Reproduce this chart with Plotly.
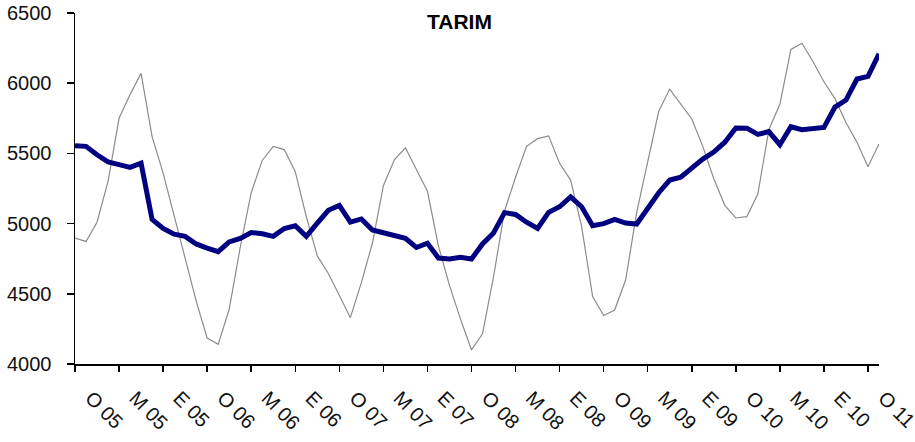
import numpy as np
import plotly.graph_objects as go

# Monthly observations, Jan 2005 (O 05) .. Feb 2011
raw_values = [
    4897, 4873, 5010, 5300, 5750, 5920, 6070, 5620, 5360, 5050, 4745, 4450,
    4185, 4140, 4390, 4830, 5220, 5450, 5550, 5527, 5370, 5050, 4770, 4645,
    4490, 4330, 4580, 4860, 5270, 5455, 5540, 5380, 5230, 4840, 4560, 4320,
    4100, 4215, 4620, 5090, 5330, 5550, 5605, 5625, 5430, 5310, 4980, 4480,
    4345, 4385, 4600, 5080, 5450, 5800, 5958, 5850, 5745, 5550, 5320, 5130,
    5040, 5050, 5210, 5670, 5850, 6240, 6285, 6155, 6010, 5890, 5720, 5580,
    5405, 5567,
]
trend_values = [
    5555, 5550, 5490, 5440, 5420, 5400, 5430, 5030, 4965, 4925, 4909, 4855,
    4825, 4800, 4870, 4895, 4937, 4928, 4909, 4965, 4985, 4909, 5004, 5095,
    5130, 5010, 5033, 4955, 4935, 4915, 4895, 4830, 4860, 4755, 4748, 4760,
    4748, 4855, 4933, 5078, 5065, 5010, 4965, 5080, 5120, 5190, 5120, 4985,
    5000, 5030, 5004, 4997, 5110, 5220, 5310, 5330, 5395, 5460, 5510, 5580,
    5681, 5680, 5635, 5655, 5562, 5690, 5669, 5674, 5685, 5830, 5880, 6030,
    6049, 6210,
]
tick_labels = [
    "O 05", "M 05", "E 05", "O 06", "M 06", "E 06", "O 07", "M 07", "E 07",
    "O 08", "M 08", "E 08", "O 09", "M 09", "E 09", "O 10", "M 10", "E 10",
    "O 11",
]
y_ticks = [4000, 4500, 5000, 5500, 6000, 6500]

x = np.arange(len(raw_values))
tick_pos = np.arange(len(tick_labels)) * 4

FONT = "Arial, Liberation Sans, sans-serif"

fig = go.Figure()
fig.add_trace(go.Scatter(
    x=x, y=raw_values, mode="lines",
    line=dict(color="#8c8c8c", width=1.2), hoverinfo="skip", showlegend=False,
))
fig.add_trace(go.Scatter(
    x=x, y=trend_values, mode="lines",
    line=dict(color="#000080", width=5), hoverinfo="skip", showlegend=False,
))

fig.update_layout(
    width=915, height=442,
    margin=dict(l=75, r=36, t=13, b=78, autoexpand=False),
    paper_bgcolor="white", plot_bgcolor="white",
    showlegend=False,
    font=dict(family=FONT, size=19, color="#111111"),
    annotations=[dict(
        text="<b>TARIM</b>", xref="paper", yref="paper",
        x=0.478, y=1.0, xanchor="center", yanchor="top", yshift=5,
        showarrow=False, font=dict(family=FONT, size=21, color="#000000"),
    )],
)
fig.update_xaxes(
    range=[0, 73], showgrid=False, zeroline=False, automargin=False,
    showline=True, linecolor="#000000", linewidth=1.5,
    tickmode="array", tickvals=tick_pos, ticktext=tick_labels,
    ticks="outside", ticklen=6, tickwidth=1.5, tickcolor="#000000",
    tickangle=45, ticklabelshift=16, ticklabelstandoff=7,
    ticklabeloverflow="allow",
    tickfont=dict(family=FONT, size=20, color="#111111"),
)
fig.update_yaxes(
    range=[4000, 6500], showgrid=False, zeroline=False, automargin=False,
    showline=True, linecolor="#000000", linewidth=1.5,
    tickmode="array", tickvals=y_ticks,
    ticks="outside", ticklen=7, tickwidth=1.5, tickcolor="#000000",
    ticklabelstandoff=11, ticklabeloverflow="allow",
    tickfont=dict(family=FONT, size=20, color="#111111"),
)

# remove the default page margin so the figure fills the window exactly
fig.write_html(
    "out.html",
    config={"displayModeBar": False, "staticPlot": True},
    post_script="document.body.style.margin='0';document.body.style.overflow='hidden';",
)
